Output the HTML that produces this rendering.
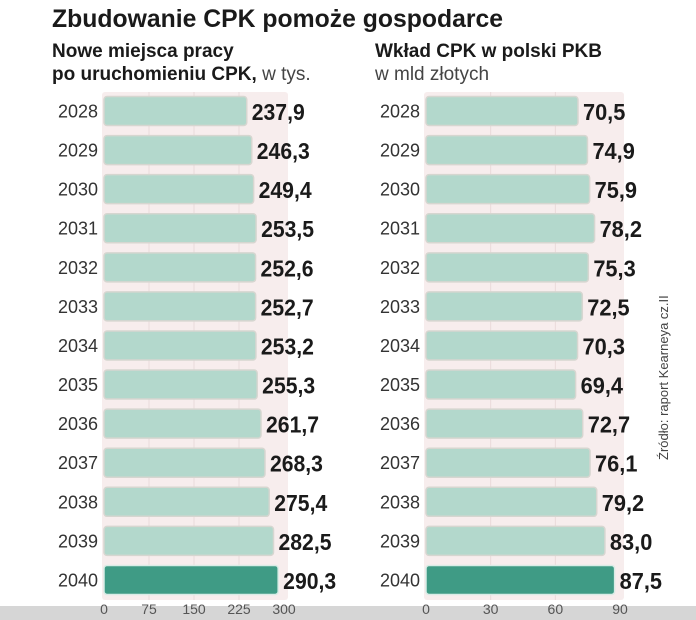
<!DOCTYPE html>
<html><head><meta charset="utf-8"><style>
html,body{margin:0;padding:0;background:#fff}
svg{display:block}
text{font-family:"Liberation Sans",sans-serif}
</style></head><body>
<svg id="c" width="696" height="620" xmlns="http://www.w3.org/2000/svg">
<rect x="0" y="606" width="696" height="14" fill="#d6d6d6"/>
<text x="52" y="27" font-size="25" font-weight="bold" fill="#1a1a1a" textLength="451" lengthAdjust="spacingAndGlyphs">Zbudowanie CPK pomoże gospodarce</text>
<text x="52" y="57" font-size="19" font-weight="bold" fill="#1a1a1a">Nowe miejsca pracy</text>
<text x="52" y="80" font-size="19" fill="#1a1a1a"><tspan font-weight="bold">po uruchomieniu CPK,</tspan> <tspan fill="#444">w tys.</tspan></text>
<text x="375" y="57" font-size="19" font-weight="bold" fill="#1a1a1a">Wkład CPK w polski PKB</text>
<text x="375" y="80" font-size="19" fill="#444">w mld złotych</text>
<text transform="translate(668,460) rotate(-90)" font-size="13" fill="#444">Źródło: raport Kearneya cz.II</text>
<g id="left"></g><g id="right"></g>
</svg>
<script>
const years = ['2028','2029','2030','2031','2032','2033','2034','2035','2036','2037','2038','2039','2040'];
const jobs = [237.9,246.3,249.4,253.5,252.6,252.7,253.2,255.3,261.7,268.3,275.4,282.5,290.3];
const gdp = [70.5,74.9,75.9,78.2,75.3,72.5,70.3,69.4,72.7,76.1,79.2,83.0,87.5];
const jobsTicks = [0,75,150,225,300];
const gdpTicks = [0,30,60,90];
const NS='http://www.w3.org/2000/svg';
function mk(p,tag,a){const e=document.createElementNS(NS,tag);for(const k in a)e.setAttribute(k,a[k]);p.appendChild(e);return e;}
function yPos(i){return 111+i*39.08;}
function panel(g,x0,x1,max,vals,ticks,prefix,yearX){
  const sx=v=>x0+(x1-x0)*v/max;
  const bg=mk(g,'rect',{x:x0-2,y:92,width:(x1-x0)+6,height:508,fill:'#f7eded',rx:3});
  
  
  ticks.forEach(t=>{
    if(t>0&&t<max){const l=mk(g,'line',{x1:sx(t),x2:sx(t),y1:92,y2:600,stroke:'#eadada','stroke-width':1});
    
    }
    const tx=mk(g,'text',{x:sx(t),y:614,'font-size':14,fill:'#555','text-anchor':'middle'});
    tx.textContent=t;
    
    
  });
  vals.forEach((v,i)=>{
    const y=yPos(i);const last=i===vals.length-1;
    const yl=mk(g,'text',{x:yearX,y:y+6.5,'font-size':18,fill:'#333','text-anchor':'end'});
    yl.textContent=years[i];
    
    
    const b=mk(g,'rect',{x:x0,y:y-14.5,width:sx(v)-x0,height:29,rx:3,fill:last?'#3f9b85':'#b3d8cc',stroke:last?'#d9ece6':'#d6d6d0','stroke-width':1.5});
    
    
    const s=v.toFixed(1).replace('.',',');
    const vl=mk(g,'text',{x:sx(v)+5,y:y+9,'font-size':23,'font-weight':'bold',fill:'#1a1a1a',textLength:s.length*10.6,lengthAdjust:'spacingAndGlyphs'});
    vl.textContent=s;
    
    
  });
}
panel(document.getElementById('left'),104,284,300,jobs,jobsTicks,'jobs',98);
panel(document.getElementById('right'),426,620,90,gdp,gdpTicks,'gdp',420);
</script>
</body></html>
